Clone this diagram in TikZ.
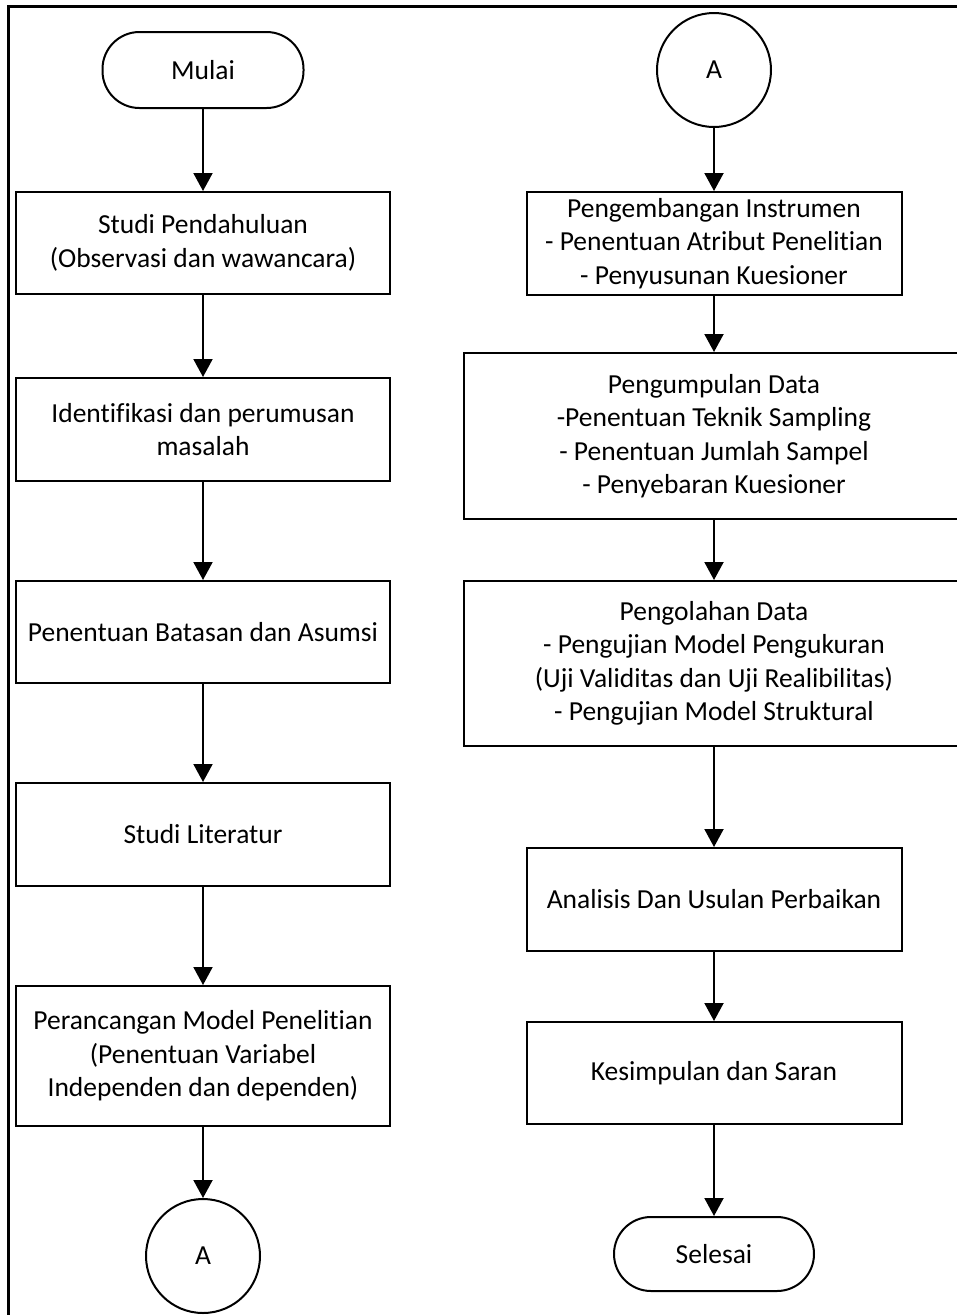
\documentclass[tikz,border=0pt]{standalone}
\usepackage{fontspec}
\setmainfont{Carlito}[Ligatures={NoCommon}]
\usetikzlibrary{arrows.meta}
\begin{document}
\begin{tikzpicture}[x=1pt,y=-1pt,
  txt/.style={align=center,inner sep=0pt,font=\fontsize{27.5}{33.5}\selectfont},
  box/.style={txt,draw,line width=2pt,rectangle},
  term/.style={txt,draw,line width=2pt,rectangle,rounded corners=37pt},
  conn/.style={txt,draw,line width=2pt,circle,minimum size=114pt},
  arr/.style={line width=2pt,-{Triangle[width=19pt,length=18pt]}}]
\clip (0,0) rectangle (957,1315);
\fill[white] (0,0) rectangle (957,1315);
\draw[line width=3pt] (8,6) rectangle (1200,1500);

% left column
\node[term,minimum width=201pt,minimum height=76pt] (mulai) at (203,70) {Mulai};
\node[box,minimum width=374pt,minimum height=102pt] (s1) at (203,243) {Studi Pendahuluan\\(Observasi dan wawancara)};
\node[box,minimum width=374pt,minimum height=103pt] (s2) at (203,429.5) {Identifikasi dan perumusan\\masalah};
\node[box,minimum width=374pt,minimum height=102pt] (s3) at (203,632) {Penentuan Batasan dan Asumsi};
\node[box,minimum width=374pt,minimum height=103pt] (s4) at (203,834.5) {Studi Literatur};
\node[box,minimum width=374pt,minimum height=140pt] (s5) at (203,1056) {Perancangan Model Penelitian\\(Penentuan Variabel\\Independen dan dependen)};
\node[conn] (a1) at (203,1256) {A};

% right column
\node[conn] (a2) at (714,70) {A};
\node[box,minimum width=375pt,minimum height=103pt] (r1) at (714,243.5) {Pengembangan Instrumen\\- Penentuan Atribut Penelitian\\- Penyusunan Kuesioner};
\node[box,minimum width=500pt,minimum height=166pt] (r2) at (714,436) {Pengumpulan Data\\-Penentuan Teknik Sampling\\- Penentuan Jumlah Sampel\\- Penyebaran Kuesioner};
\node[box,minimum width=500pt,minimum height=165pt] (r3) at (714,663.5) {Pengolahan Data\\- Pengujian Model Pengukuran\\(Uji Validitas dan Uji Realibilitas)\\- Pengujian Model Struktural};
\node[box,minimum width=375pt,minimum height=103pt] (r4) at (714,899.5) {Analisis Dan Usulan Perbaikan};
\node[box,minimum width=375pt,minimum height=102pt] (r5) at (714,1073) {Kesimpulan dan Saran};
\node[term,minimum width=200pt,minimum height=74pt] (selesai) at (714,1254) {Selesai};

% connectors
\draw[arr] (mulai) -- (s1);
\draw[arr] (s1) -- (s2);
\draw[arr] (s2) -- (s3);
\draw[arr] (s3) -- (s4);
\draw[arr] (s4) -- (s5);
\draw[arr] (s5) -- (a1);
\draw[arr] (a2) -- (r1);
\draw[arr] (r1) -- (r2);
\draw[arr] (r2) -- (r3);
\draw[arr] (r3) -- (r4);
\draw[arr] (r4) -- (r5);
\draw[arr] (r5) -- (selesai);
\end{tikzpicture}
\end{document}
